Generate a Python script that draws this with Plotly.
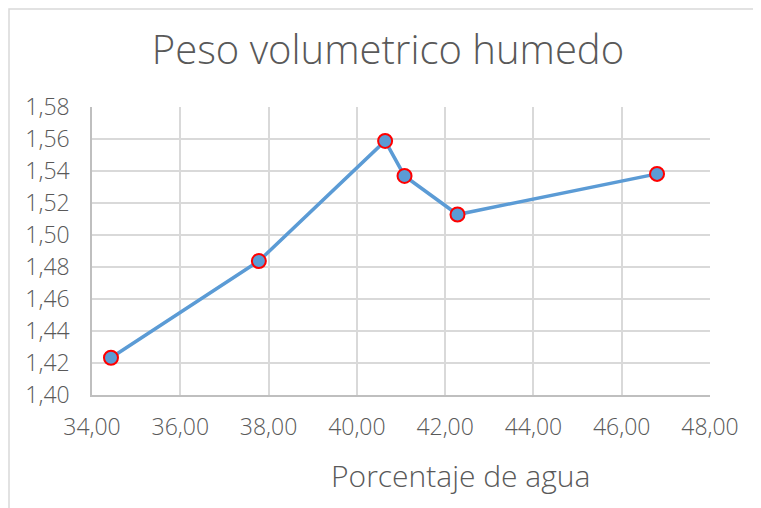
import plotly.graph_objects as go

# percentage of water vs wet volumetric weight
water_pct = [34.43, 37.78, 40.64, 41.08, 42.28, 46.80]
wet_weight = [1.4233, 1.4837, 1.5588, 1.5369, 1.5128, 1.5382]

x_ticks = [34, 36, 38, 40, 42, 44, 46, 48]
y_ticks = [1.40, 1.42, 1.44, 1.46, 1.48, 1.50, 1.52, 1.54, 1.56, 1.58]

FONT = "Open Sans"
GREY = "#595959"
GRID = "#d9d9d9"

# the page body has an 8px margin, so work in page pixels and shift
OFF = 8
W, H = 761, 508
PW, PH = 618, 288
ML, MT = 92 - OFF, 107 - OFF
MR, MB = W - ML - PW, H - MT - PH


def px_to_paper(px, py):
    # page pixel -> paper coords
    return (px - OFF - ML) / PW, 1 - (py - OFF - MT) / PH


fig = go.Figure()
fig.add_trace(
    go.Scatter(
        x=water_pct,
        y=wet_weight,
        mode="lines+markers",
        line=dict(color="#5b9bd5", width=3.5),
        marker=dict(size=14, color="#5b9bd5", line=dict(color="#ff0000", width=2)),
        showlegend=False,
    )
)

bx0, by0 = px_to_paper(OFF + 1, OFF + 1)
bx1, by1 = px_to_paper(800, 560)

fig.update_layout(
    width=W,
    height=H,
    margin=dict(l=ML, r=MR, t=MT, b=MB, autoexpand=False),
    paper_bgcolor="white",
    plot_bgcolor="white",
    separators=",.",
    font=dict(family=FONT, color=GREY, size=23, weight=300),
    title=dict(
        text="Peso volumetrico humedo",
        font=dict(family=FONT, size=40, color=GREY, weight=300),
        x=(388 - OFF) / W,
        xanchor="center",
        y=1 - (50 - OFF) / H,
        yanchor="middle",
        automargin=False,
    ),
    xaxis=dict(
        range=[34, 48],
        tickvals=x_ticks,
        tickformat=".2f",
        showgrid=True,
        gridcolor=GRID,
        gridwidth=1.5,
        showline=True,
        linecolor="#bfbfbf",
        linewidth=1.5,
        zeroline=False,
        ticks="",
        automargin=False,
        ticklabelstandoff=11,
        tickfont=dict(family=FONT, size=23, color=GREY, weight=300),
    ),
    yaxis=dict(
        range=[1.40, 1.58],
        tickvals=y_ticks,
        tickformat=".2f",
        showgrid=True,
        gridcolor=GRID,
        gridwidth=1.5,
        showline=True,
        linecolor="#bfbfbf",
        linewidth=1.5,
        zeroline=False,
        ticks="",
        automargin=False,
        ticklabelstandoff=16,
        tickfont=dict(family=FONT, size=23, color=GREY, weight=300),
    ),
    shapes=[
        dict(
            type="rect",
            xref="paper",
            yref="paper",
            x0=bx0,
            y0=by1,
            x1=bx1,
            y1=by0,
            line=dict(color=GRID, width=1.5),
            fillcolor="rgba(0,0,0,0)",
            layer="below",
        )
    ],
    annotations=[
        dict(
            text="Porcentaje de agua",
            xref="paper",
            yref="paper",
            x=px_to_paper(460, 0)[0],
            y=px_to_paper(0, 475)[1],
            xanchor="center",
            yanchor="middle",
            showarrow=False,
            font=dict(family=FONT, size=30, color=GREY, weight=300),
        )
    ],
)

fig.write_html("out.html")
